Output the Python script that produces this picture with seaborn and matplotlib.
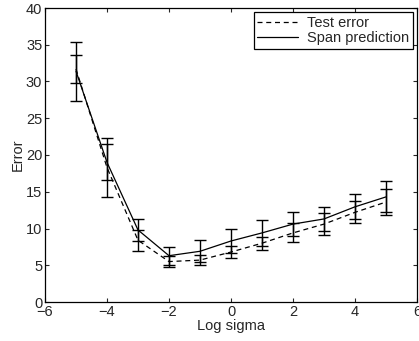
import matplotlib
matplotlib.use("Agg")
import matplotlib.pyplot as plt
import seaborn as sns
import pandas as pd

log_sigma = [-5, -4, -3, -2, -1, 0, 1, 2, 3, 4, 5]
test_error = [31.7, 18.3, 8.4, 5.5, 5.7, 6.8, 8.0, 9.4, 10.6, 12.2, 13.6]
test_err_sd = [1.9, 3.95, 1.45, 0.8, 0.7, 0.8, 0.9, 1.3, 1.5, 1.5, 1.8]
span_pred = [31.4, 19.0, 9.8, 6.3, 6.9, 8.3, 9.4, 10.6, 11.3, 12.95, 14.3]
span_sd = [4.0, 2.45, 1.45, 1.2, 1.5, 1.7, 1.75, 1.6, 1.65, 1.7, 2.1]

sns.set_style("ticks")
plt.rcParams['font.family'] = ['Liberation Sans', 'DejaVu Sans']
plt.rcParams['xtick.direction'] = 'in'
plt.rcParams['ytick.direction'] = 'in'

df = pd.DataFrame({
    "x": log_sigma * 2,
    "y": test_error + span_pred,
    "series": ["Test error"] * len(log_sigma) + ["Span prediction"] * len(log_sigma),
})

fig = plt.figure(figsize=(4.19, 3.41), dpi=100)
ax = fig.add_axes([45/419, 1 - 302/341, 372/419, 294/341])

sns.lineplot(data=df, x="x", y="y", hue="series", style="series",
             palette={"Test error": "black", "Span prediction": "black"},
             dashes={"Test error": (4, 3), "Span prediction": ""},
             linewidth=0.9, ax=ax, legend=True)

ax.errorbar(log_sigma, test_error, yerr=test_err_sd, fmt="none", ecolor="black",
            elinewidth=1.0, capsize=4, capthick=1.0)
ax.errorbar(log_sigma, span_pred, yerr=span_sd, fmt="none", ecolor="black",
            elinewidth=1.0, capsize=4, capthick=1.0)

ax.set_xlim(-6, 6)
ax.set_ylim(0, 40)
ax.set_xticks([-6, -4, -2, 0, 2, 4, 6])
ax.set_xticklabels(["\u22126", "\u22124", "\u22122", "0", "2", "4", "6"])
ax.set_yticks([0, 5, 10, 15, 20, 25, 30, 35, 40])
ax.tick_params(labelsize=10.5, length=3, width=0.8, top=True, right=True, pad=2)
ax.set_xlabel("Log sigma", fontsize=10.5, labelpad=0)
ax.set_ylabel("Error", fontsize=10.5, labelpad=1)
for s in ax.spines.values():
    s.set_linewidth(0.9)
    s.set_color("black")

leg = ax.legend(loc="upper right", fontsize=10.5, frameon=True, fancybox=False,
                edgecolor="black", framealpha=1, borderaxespad=0.3,
                handlelength=2.8, borderpad=0.25, labelspacing=0.1, handletextpad=0.6)
leg.get_frame().set_linewidth(0.9)

fig.savefig("out.png", dpi=100)
